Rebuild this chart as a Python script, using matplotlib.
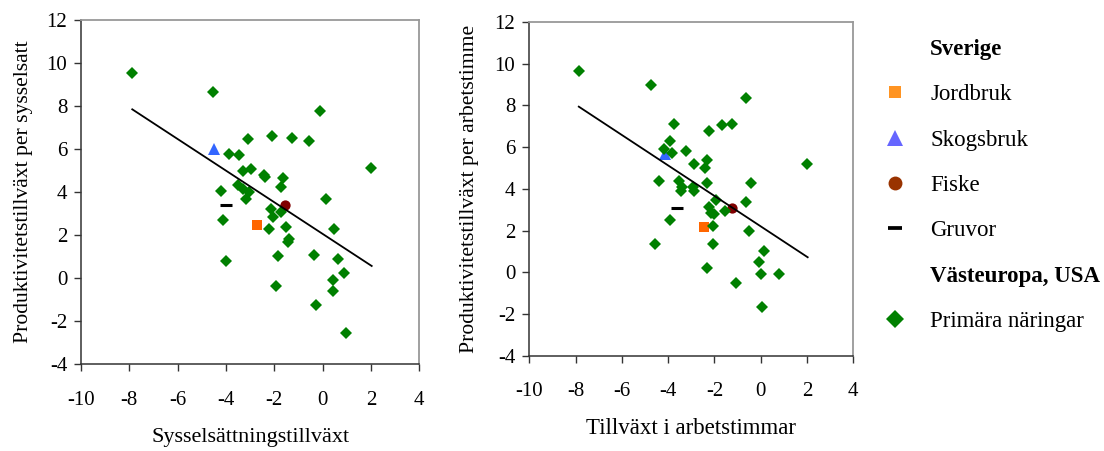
import matplotlib.pyplot as plt
from matplotlib.lines import Line2D

plt.rcParams['font.family'] = ['Liberation Serif', 'DejaVu Serif']
plt.rcParams['axes.unicode_minus'] = False

# Västeuropa, USA - primära näringar (vänster: per sysselsatt)
left_x = [-7.9, -4.55, -0.1, -3.1, -2.08, -1.26, -0.57, -3.86, -3.45, 2.0,
          -3.31, -2.97, -2.42, -2.38, -1.66, -1.74, -4.21, -3.52, -3.31, -3.04,
          -3.16, 0.14, -2.14, -2.05, -1.73, -4.14, -2.21, -1.52, 0.48, -1.38,
          -1.45, -1.86, -0.35, 0.62, -4.0, 0.89, 0.41, -1.93, 0.41, -0.28, 0.96]
left_y = [9.55, 8.65, 7.77, 6.46, 6.62, 6.53, 6.36, 5.79, 5.73, 5.14,
          4.97, 5.06, 4.8, 4.72, 4.67, 4.22, 4.07, 4.33, 4.15, 4.02,
          3.68, 3.7, 3.2, 2.85, 3.07, 2.69, 2.27, 2.36, 2.27, 1.81,
          1.68, 1.05, 1.07, 0.89, 0.82, 0.23, -0.08, -0.35, -0.59, -1.24, -2.56]

# Västeuropa, USA - primära näringar (höger: per arbetstimme)
right_x = [-7.84, -4.72, -0.64, -3.76, -2.24, -1.69, -1.22, -3.92, -4.19, -3.83,
           -3.22, 1.99, -2.88, -2.31, -2.41, -4.39, -3.55, -3.4, -3.43, -2.93,
           -2.9, -2.31, -0.41, -1.94, -2.22, -2.15, -2.01, -1.53, -0.63, -3.92,
           -2.08, -0.49, -4.57, -2.08, 0.16, -0.08, 0.0, 0.79, -2.32, -1.05, 0.07]
right_y = [9.64, 9.0, 8.37, 7.13, 6.79, 7.05, 7.13, 6.3, 5.91, 5.7,
           5.82, 5.18, 5.18, 5.37, 4.99, 4.38, 4.38, 4.1, 3.92, 4.1,
           3.92, 4.3, 4.3, 3.47, 3.15, 2.83, 2.78, 2.94, 3.39, 2.49,
           2.24, 1.97, 1.36, 1.36, 1.0, 0.49, -0.09, -0.08, 0.19, -0.53, -1.68]

# Sverige: Jordbruk, Skogsbruk, Fiske, Gruvor
sweden_names = ['Jordbruk', 'Skogsbruk', 'Fiske', 'Gruvor']
sweden_left_x = [-2.73, -4.48, -1.55, -4.0]
sweden_left_y = [2.47, 6.0, 3.4, 3.39]
sweden_right_x = [-2.45, -4.12, -1.25, -3.6]
sweden_right_y = [2.19, 5.67, 3.08, 3.08]

# trendlinjer (Excel)
trend_left_x = [-7.88, 2.03]
trend_left_y = [7.85, 0.57]
trend_right_x = [-7.86, 2.03]
trend_right_y = [7.94, 0.72]

xticks = [-10, -8, -6, -4, -2, 0, 2, 4]
yticks = [-4, -2, 0, 2, 4, 6, 8, 10, 12]

green = '#008000'
sw_markers = ['s', '^', 'o', '_']
sw_colors = ['#FF6600', '#3366FF', '#800000', 'black']
sw_legend_colors = ['#FF9422', '#6666FF', '#993300', 'black']
sw_sizes = [7.2, 8.3, 7.4, 8.6]
sw_legend_sizes = [8.6, 11.5, 10, 9.5]

fig = plt.figure(figsize=(11.04, 4.51), dpi=100)
ax1 = fig.add_axes([0.0734, 0.1922, 0.3064, 0.7634])
ax2 = fig.add_axes([0.4794, 0.2113, 0.2935, 0.7400])


def draw(ax, px, py, sx, sy, tx, ty):
    for i in range(4):
        ax.plot(sx[i], sy[i], marker=sw_markers[i], color=sw_colors[i],
                markersize=sw_sizes[i], markeredgewidth=2.2 if sw_markers[i] == '_' else 0,
                linestyle='none', zorder=2)
    ax.plot(px, py, 'D', color=green, markersize=6.6, markeredgewidth=0, zorder=3)
    ax.plot(tx, ty, color='black', linewidth=1.3, zorder=4)
    ax.set_xlim(-10, 4)
    ax.set_ylim(-4, 12)
    ax.set_xticks(xticks)
    ax.set_yticks(yticks)
    for s in ['top', 'right']:
        ax.spines[s].set_color('#999999')
        ax.spines[s].set_linewidth(1.3)
    for s in ['left', 'bottom']:
        ax.spines[s].set_color('#333333')
        ax.spines[s].set_linewidth(1.1)
    ax.tick_params(axis='x', length=5, width=1, labelsize=15, pad=14, color='#333333')
    ax.tick_params(axis='y', length=5, width=1, labelsize=15, pad=5, color='#333333')


draw(ax1, left_x, left_y, sweden_left_x, sweden_left_y, trend_left_x, trend_left_y)
draw(ax2, right_x, right_y, sweden_right_x, sweden_right_y, trend_right_x, trend_right_y)

ax1.set_xlabel('Sysselsättningstillväxt', fontsize=16)
ax1.xaxis.set_label_coords(0.5, -0.185)
ax1.set_ylabel('Produktivitetstillväxt per sysselsatt', fontsize=15.6)
ax1.yaxis.set_label_coords(-0.143, 0.5)
ax2.set_xlabel('Tillväxt i arbetstimmar', fontsize=16.5)
ax2.xaxis.set_label_coords(0.5, -0.187)
ax2.set_ylabel('Produktivitetstillväxt per arbetstimme', fontsize=15.6)
ax2.yaxis.set_label_coords(-0.154, 0.5)

# legend
blank = Line2D([], [], linestyle='none')
handles = [blank]
labels = ['Sverige']
for i in range(4):
    handles.append(Line2D([], [], marker=sw_markers[i], color=sw_legend_colors[i],
                          markersize=sw_legend_sizes[i],
                          markeredgewidth=2.7 if sw_markers[i] == '_' else 0,
                          linestyle='none'))
    labels.append(sweden_names[i])
handles += [blank, Line2D([], [], marker='D', color=green, markersize=9.5,
                          markeredgewidth=0, linestyle='none')]
labels += ['Västeuropa, USA', 'Primära näringar']

leg = fig.legend(handles, labels, loc='upper left', bbox_to_anchor=(0.790, 0.934),
                 frameon=False, fontsize=16.5, labelspacing=1.06, handlelength=1.2,
                 handletextpad=0.93, borderaxespad=0)
for t in (leg.get_texts()[0], leg.get_texts()[5]):
    t.set_fontweight('bold')

fig.savefig('out.png', dpi=100)
